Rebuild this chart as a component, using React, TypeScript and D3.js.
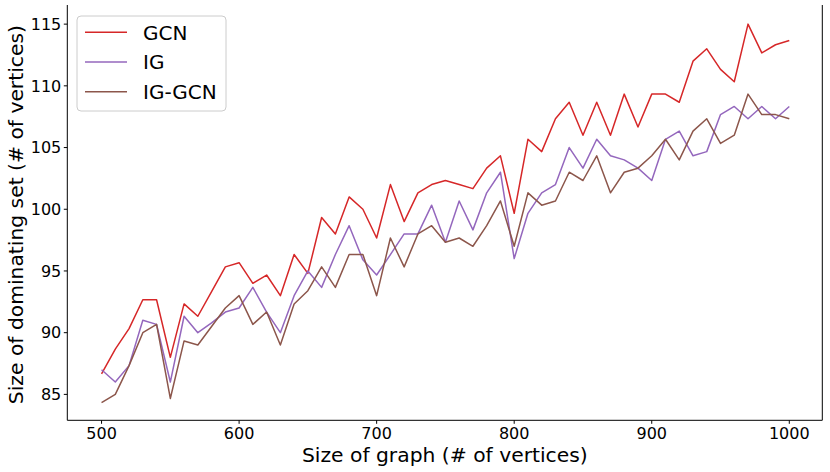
import React from "react";
import * as d3 from "d3";

const sizes: number[] = d3.range(500, 1001, 10);

const gcn: number[] = [
  86.67, 88.67, 90.33, 92.67, 92.67, 88.0, 92.33, 91.33, 93.33, 95.33,
  95.67, 94.0, 94.67, 93.0, 96.33, 94.8, 99.33, 98.0, 101.0, 100.0,
  97.67, 102.0, 99.0, 101.33, 102.0, 102.33, 102.0, 101.67, 103.33, 104.33,
  99.67, 105.67, 104.67, 107.33, 108.67, 106.0, 108.67, 106.0, 109.33, 106.67,
  109.33, 109.33, 108.67, 112.0, 113.0, 111.33, 110.33, 115.0, 112.67, 113.33,
  113.67,
];

const ig: number[] = [
  87.0, 86.0, 87.33, 91.0, 90.67, 86.0, 91.33, 90.0, 90.8, 91.67,
  92.0, 93.67, 91.67, 90.0, 93.0, 95.0, 93.67, 96.33, 98.67, 95.9,
  94.67, 96.33, 98.0, 98.0, 100.33, 97.33, 100.67, 98.33, 101.33, 103.0,
  96.0, 99.67, 101.33, 102.0, 105.0, 103.33, 105.67, 104.33, 104.0, 103.33,
  102.33, 105.67, 106.33, 104.33, 104.67, 107.67, 108.33, 107.33, 108.33, 107.33,
  108.33,
];

const igGcn: number[] = [
  84.33, 85.0, 87.33, 90.0, 90.67, 84.67, 89.33, 89.0, 90.5, 92.0,
  93.0, 90.67, 91.67, 89.0, 92.33, 93.4, 95.33, 93.67, 96.33, 96.33,
  93.0, 97.67, 95.33, 98.0, 98.67, 97.33, 97.67, 97.0, 98.67, 100.67,
  97.0, 101.33, 100.33, 100.67, 103.0, 102.33, 104.33, 101.33, 103.0, 103.33,
  104.33, 105.67, 104.0, 106.33, 107.33, 105.33, 106.0, 109.33, 107.67, 107.67,
  107.33,
];

const seriesNames: string[] = ["GCN", "IG", "IG-GCN"];
const seriesColors: string[] = ["#d62728", "#9467bd", "#8c564b"];
const xTicks: number[] = [500, 600, 700, 800, 900, 1000];
const yTicks: number[] = [85, 90, 95, 100, 105, 110, 115];

const W = 830;
const H = 472;
const left = 67.3;
const right = 822.3;
const top = 5;
const bottom = 420.3;
const FONT = "'DejaVu Sans', sans-serif";

export default function App() {
  const x = d3.scaleLinear().domain([475.1, 1024]).range([left, right]);
  const y = d3.scaleLinear().domain([82.9, 116.55]).range([bottom, top]);
  const allSeries = [gcn, ig, igGcn];
  const line = d3
    .line<number>()
    .x((_, i) => x(sizes[i]))
    .y((d) => y(d));

  return (
    <div style={{ position: "absolute", left: 0, top: 0 }}>
      <svg width={W} height={H} style={{ display: "block", background: "#fff" }}>
        <rect x={0} y={0} width={W} height={H} fill="#fff" />
        {allSeries.map((s, k) => (
          <path
            key={k}
            d={line(s) || ""}
            fill="none"
            stroke={seriesColors[k]}
            strokeWidth={1.5}
            strokeLinejoin="round"
          />
        ))}
        {/* spines */}
        <line x1={left} x2={left} y1={top} y2={bottom} stroke="#000" strokeWidth={1} />
        <line x1={right} x2={right} y1={top} y2={bottom} stroke="#000" strokeWidth={1} />
        <line x1={left} x2={right} y1={bottom} y2={bottom} stroke="#000" strokeWidth={1} />
        {/* x ticks */}
        {xTicks.map((t) => (
          <g key={t}>
            <line x1={x(t)} x2={x(t)} y1={bottom} y2={bottom + 3.5} stroke="#000" strokeWidth={1} />
            <text
              x={x(t)}
              y={439.3}
              textAnchor="middle"
              fontFamily={FONT}
              fontSize={16}
              fill="#000"
            >
              {t}
            </text>
          </g>
        ))}
        {/* y ticks */}
        {yTicks.map((t) => (
          <g key={t}>
            <line x1={left - 3.5} x2={left} y1={y(t)} y2={y(t)} stroke="#000" strokeWidth={1} />
            <text
              x={left - 6}
              y={y(t)}
              dy="0.36em"
              textAnchor="end"
              fontFamily={FONT}
              fontSize={16}
              fill="#000"
            >
              {t}
            </text>
          </g>
        ))}
        <text
          x={(left + right) / 2}
          y={461.5}
          textAnchor="middle"
          fontFamily={FONT}
          fontSize={20.3}
          fill="#000"
        >
          Size of graph (# of vertices)
        </text>
        <text
          transform={`translate(22.7, ${(top + bottom) / 2 + 2}) rotate(-90)`}
          textAnchor="middle"
          fontFamily={FONT}
          fontSize={20.3}
          fill="#000"
        >
          Size of dominating set (# of vertices)
        </text>
        {/* legend */}
        <rect
          x={77}
          y={16}
          width={149}
          height={95}
          rx={4}
          fill="#fff"
          fillOpacity={0.8}
          stroke="#cccccc"
          strokeWidth={1}
        />
        {seriesNames.map((n, k) => {
          const ly = 32.3 + k * 29.7;
          return (
            <g key={n}>
              <line x1={85} x2={127} y1={ly} y2={ly} stroke={seriesColors[k]} strokeWidth={1.5} />
              <text
                x={143}
                y={ly}
                dy="0.36em"
                fontFamily={FONT}
                fontSize={20}
                fill="#000"
              >
                {n}
              </text>
            </g>
          );
        })}
      </svg>
    </div>
  );
}
